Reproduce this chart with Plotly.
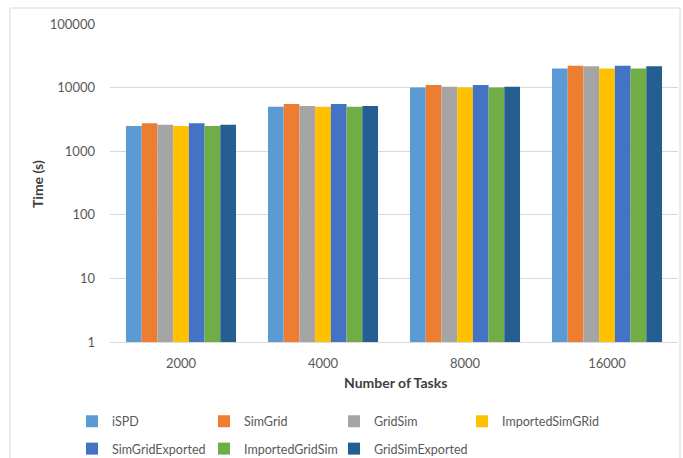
import plotly.graph_objects as go

# Number of tasks per experiment (x categories)
tasks = ["2000", "4000", "8000", "16000"]

# Execution time in seconds for each simulator
ispd = [2500, 5000, 10000, 20000]
simgrid = [2750, 5500, 11000, 22000]
gridsim = [2600, 5150, 10300, 21600]
imported_simgrid = [2500, 5000, 10000, 20000]
simgrid_exported = [2750, 5500, 11000, 22000]
imported_gridsim = [2500, 5000, 10000, 20000]
gridsim_exported = [2600, 5150, 10300, 21600]

y_tick_vals = [1, 10, 100, 1000, 10000, 100000]
y_tick_text = ["1", "10", "100", "1000", "10000", "100000"]

series = [
    ("iSPD", ispd, "#5B9BD5"),
    ("SimGrid", simgrid, "#ED7D31"),
    ("GridSim", gridsim, "#A5A5A5"),
    ("ImportedSimGRid", imported_simgrid, "#FFC000"),
    ("SimGridExported", simgrid_exported, "#4472C4"),
    ("ImportedGridSim", imported_gridsim, "#70AD47"),
    ("GridSimExported", gridsim_exported, "#255E91"),
]

FONT = "Lato, Carlito, 'Liberation Sans', sans-serif"
TXT = "#595959"

# plot area: x 110..678 px, y 24..342 px
L, R, T, B = 110, 5, 24, 116
W, H = 683, 458
pw, ph = W - L - R, H - T - B

def px_x(p):
    return (p - L) / pw

def px_y(p):
    return (H - B - p) / ph

# legend grid: 4 columns, 2 rows (text start x, row centre y)
col_x = [113, 245, 375, 503]
row_y = [421.5, 449]

fig = go.Figure()
legends = {}
for i, (name, vals, color) in enumerate(series):
    key = "legend" if i == 0 else f"legend{i + 1}"
    fig.add_trace(go.Bar(
        name=name, x=tasks, y=vals, legend=key,
        marker=dict(color=color, line=dict(width=0)),
    ))
    legends[key] = dict(
        orientation="h", xanchor="left", yanchor="middle",
        x=px_x(col_x[i % 4] - 41), y=px_y(row_y[i // 4]),
        font=dict(size=12.5, color=TXT), bgcolor="rgba(0,0,0,0)",
        itemclick=False, itemdoubleclick=False,
    )

fig.update_layout(
    width=W, height=H,
    margin=dict(l=L, r=R, t=T, b=B, autoexpand=False),
    paper_bgcolor="white", plot_bgcolor="white",
    font=dict(family=FONT, size=13, color=TXT),
    barmode="group", bargap=0.225, bargroupgap=0,
    xaxis=dict(
        type="category", showgrid=False, showline=True,
        linecolor="#D9D9D9", linewidth=1, ticks="",
        tickfont=dict(size=13, color=TXT), ticklabelstandoff=9,
    ),
    yaxis=dict(
        type="log", range=[0, 5], tickvals=y_tick_vals, ticktext=y_tick_text,
        showgrid=True, gridcolor="#D9D9D9", gridwidth=1,
        showline=False, zeroline=False, ticks="",
        tickfont=dict(size=13, color=TXT), ticklabelstandoff=14,
    ),
    showlegend=True,
    annotations=[
        dict(text="<b>Time (s)</b>", xref="paper", yref="paper",
             x=px_x(37), y=px_y(184), textangle=-90, showarrow=False,
             font=dict(size=14, color="#404040"), xanchor="center", yanchor="middle"),
        dict(text="<b>Number of Tasks</b>", xref="paper", yref="paper",
             x=px_x(395), y=px_y(382), showarrow=False,
             font=dict(size=14, color="#404040"), xanchor="center", yanchor="middle"),
    ],
    shapes=[
        dict(type="rect", xref="paper", yref="paper",
             x0=px_x(10), x1=px_x(680), y0=px_y(470), y1=px_y(8),
             line=dict(color="#D9D9D9", width=1), fillcolor="rgba(0,0,0,0)",
             layer="below"),
    ],
)
fig.update_layout(**legends)

fig.write_html("out.html")
